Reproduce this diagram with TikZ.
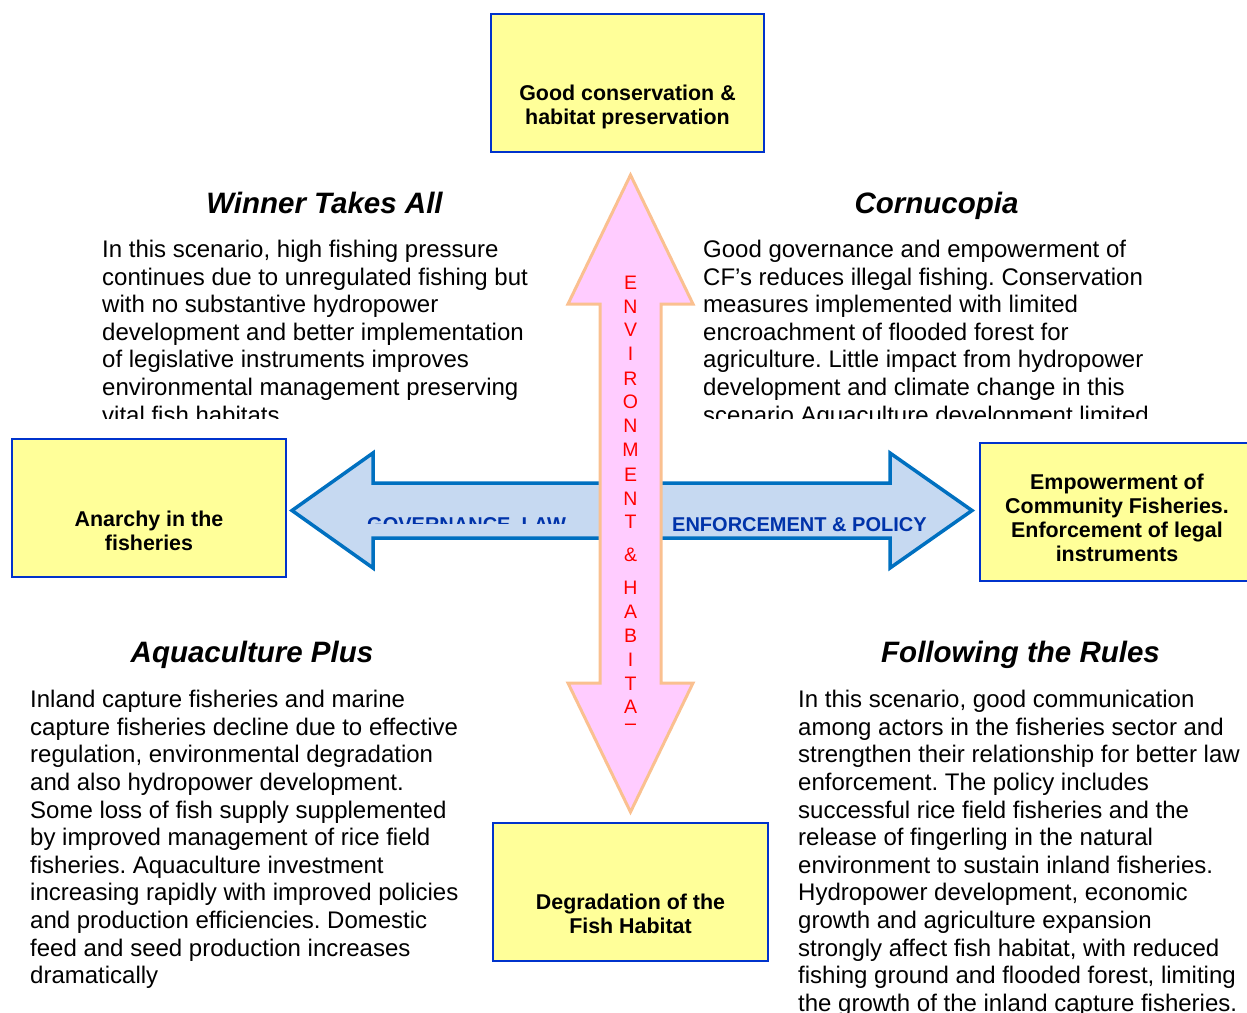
\documentclass[tikz,border=0pt]{standalone}
\usepackage{fontspec}
\setmainfont{Liberation Sans}
\usetikzlibrary{positioning}
\definecolor{boxfill}{HTML}{FFFF99}
\definecolor{boxline}{HTML}{0033CC}
\definecolor{axisfill}{HTML}{C6D9F1}
\definecolor{axisline}{HTML}{0070C0}
\definecolor{axistext}{HTML}{0033AA}
\definecolor{envfill}{HTML}{FFCCFF}
\definecolor{envline}{HTML}{FAC090}
\frenchspacing

\begin{document}
\begin{tikzpicture}[x=1pt,y=-1pt,
  box/.style={draw=boxline,line width=2pt,fill=boxfill,inner sep=0pt},
  boxlabel/.style={font=\bfseries\fontsize{21.4}{24}\selectfont,align=center,inner sep=0pt},
  title/.style={font=\bfseries\itshape\fontsize{29.5}{33}\selectfont,inner sep=0pt,text height=21.1pt,text depth=0pt},
  para/.style={font=\fontsize{24}{27.6}\selectfont,align=left,anchor=north west,inner sep=0pt},
  axislabel/.style={font=\bfseries\fontsize{20}{24}\selectfont,text=axistext,anchor=base west,inner sep=0pt},
  envletter/.style={font=\fontsize{19.5}{23}\selectfont,text=red,inner sep=0pt,text height=14pt,text depth=0pt}]
\useasboundingbox (0,0) rectangle (1247,1012);

% governance axis
\draw[draw=axisline,fill=axisfill,line width=3.5pt]
  (292,510.5) -- (373,453) -- (373,483) -- (890,483) -- (890,453) -- (972,510.5)
  -- (890,568) -- (890,538) -- (373,538) -- (373,568) -- cycle;
\node[axislabel] (enf) at (672,531) {ENFORCEMENT \& POLICY};
\begin{scope}
  \clip (300,0) rectangle (600,523);
  \node[axislabel] (gov) at (367,531) {GOVERNANCE, LAW};
\end{scope}

% environment axis
\draw[draw=envline,fill=envfill,line width=3pt]
  (630.5,175) -- (693,304) -- (661,304) -- (661,683) -- (693,683) -- (630.5,812)
  -- (568,683) -- (600,683) -- (600,304) -- (568,304) -- cycle;
\begin{scope}
  \clip (560,0) rectangle (700,724.5);
  \foreach \ch/\yy in {E/282,N/306,V/329,I/353,R/378,O/401,N/425,M/449,E/474,N/498,
                       T/521,\&/554,H/587,A/611,B/635,I/659,T/683,A/706,T/730}
    \node[envletter] (letter\yy) at (630.5,\yy) {\ch};
\end{scope}

% end states
\node[box,minimum width=273pt,minimum height=138pt] (good) at (627.5,83) {};
\node[boxlabel] (goodtxt) at (627.5,107) {Good conservation \&\\habitat preservation};
\node[box,minimum width=274pt,minimum height=138pt] (anarchy) at (149,508) {};
\node[boxlabel] (anarchytxt) at (149,531) {Anarchy in the\\fisheries};
\node[box,minimum width=274pt,minimum height=138pt] (empower) at (1117,512) {};
\node[boxlabel] (empowertxt) at (1117,518) {Empowerment of\\Community Fisheries.\\Enforcement of legal\\instruments};
\node[box,minimum width=275pt,minimum height=138pt] (degrad) at (630.5,892) {};
\node[boxlabel] (degradtxt) at (630.5,914) {Degradation of the\\Fish Habitat};

% scenarios
\node[title] (winner) at (324.5,203) {Winner Takes All};
\node[title] (cornu) at (936.5,203) {Cornucopia};
\node[title] (aqua) at (252,652) {Aquaculture Plus};
\node[title] (rules) at (1020.5,652) {Following the Rules};

\begin{scope}
  \clip (0,0) rectangle (1247,418);
  \node[para] (winnerpar) at (102,240) {In this scenario, high fishing pressure\\
    continues due to unregulated fishing but\\with no substantive hydropower\\
    development and better implementation\\of legislative instruments improves\\
    environmental management preserving\\vital fish habitats};
  \node[para] (cornupar) at (703,240) {Good governance and empowerment of\\
    CF’s reduces illegal fishing. Conservation\\measures implemented with limited\\
    encroachment of flooded forest for\\agriculture. Little impact from hydropower\\
    development and climate change in this\\scenario Aquaculture development limited};
\end{scope}
\node[para] (aquapar) at (30,690) {Inland capture fisheries and marine\\
  capture fisheries decline due to effective\\regulation, environmental degradation\\
  and also hydropower development.\\Some loss of fish supply supplemented\\
  by improved management of rice field\\fisheries. Aquaculture investment\\
  increasing rapidly with improved policies\\and production efficiencies. Domestic\\
  feed and seed production increases\\dramatically};
\node[para] (rulespar) at (798,690) {In this scenario, good communication\\
  among actors in the fisheries sector and\\strengthen their relationship for better law\\
  enforcement. The policy includes\\successful rice field fisheries and the\\
  release of fingerling in the natural\\environment to sustain inland fisheries.\\
  Hydropower development, economic\\growth and agriculture expansion\\
  strongly affect fish habitat, with reduced\\fishing ground and flooded forest, limiting\\
  the growth of the inland capture fisheries.};
\end{tikzpicture}
\end{document}
